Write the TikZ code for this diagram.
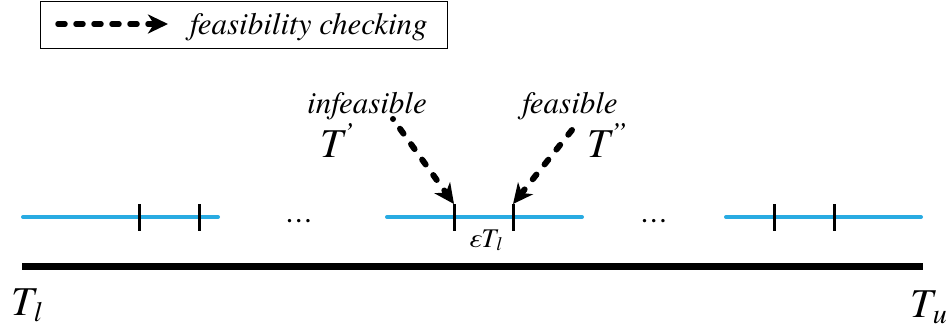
\documentclass[tikz,border=0pt]{standalone}
\usepackage{fontspec}
\setmainfont{TeX Gyre Termes}
\usetikzlibrary{arrows.meta}
\definecolor{segblue}{RGB}{41,171,226}
\tikzset{
  seg/.style={draw=segblue,line width=4pt,line cap=round},
  tick/.style={draw=black,line width=3pt},
  axis/.style={draw=black,line width=7pt},
  chk/.style={draw=black,line width=6pt,line cap=round,
    -{Stealth[length=20pt,width=19pt,inset=6pt,line cap=butt]}},
  legchk/.style={chk,line width=5.5pt,dash pattern=on 7pt off 11pt},
  diagchk/.style={chk,dash pattern=on 0pt off 12pt on 6pt off 13pt on 6pt off 13pt on 6pt off 13pt on 6pt off 13pt on 6pt off 13pt},
  lbl/.style={inner sep=0pt,font=\fontsize{31}{36}\selectfont\itshape},
  biglbl/.style={inner sep=0pt,font=\fontsize{41}{48}\selectfont\itshape},
}
\begin{document}
\begin{tikzpicture}[x=1pt,y=-1pt]
\useasboundingbox (0,0) rectangle (950,330);
% legend
\node[draw=black,line width=1pt,minimum width=407pt,minimum height=47pt,anchor=north west,inner sep=0pt] (legend) at (40,1) {};
\coordinate (la) at (58,24);
\coordinate (lb) at (168,24);
\draw[legchk] (la) -- (lb);
\node[lbl,anchor=base west] (legtxt) at (190,34) {feasibility checking};
% axis
\coordinate (ax1) at (22,266);
\coordinate (ax2) at (923,266);
\draw[axis] (ax1) -- (ax2);
\node[biglbl,anchor=base west] (Tl) at (11,315) {T\raisebox{-6pt}{\fontsize{28}{28}\selectfont\itshape l}};
\node[biglbl,anchor=base east] (Tu) at (947,317) {T\raisebox{-6pt}{\fontsize{28}{28}\selectfont\itshape u}};
% segments
\foreach \n/\a/\b in {s1/23/218, s2/387/582, s3/726/921}{
  \coordinate (\n a) at (\a,217);
  \coordinate (\n b) at (\b,217);
  \draw[seg] (\n a) -- (\n b);
}
% ticks
\foreach \n/\x in {k1/139, k2/199, k3/454, k4/513, k5/774, k6/834}{
  \coordinate (\n t) at (\x,204);
  \coordinate (\n b) at (\x,231);
  \draw[tick] (\n t) -- (\n b);
}
% dots
\node[lbl,anchor=base] (d1) at (300,222) {\dots};
\node[lbl,anchor=base] (d2) at (655,222) {\dots};
% epsilon T_l
\node[inner sep=0pt,font=\fontsize{27}{32}\selectfont\itshape,anchor=base] (eps) at (485,247) {ε{}T\raisebox{-3pt}{\fontsize{19}{19}\selectfont\itshape l}};
% labels
\node[lbl,anchor=base] (inf) at (367,113) {infeasible};
\node[lbl,anchor=base] (fea) at (570,113) {feasible};
\node[biglbl,anchor=base] (Tp) at (337,157) {T\raisebox{14pt}{\fontsize{30}{30}\selectfont\itshape '}};
\node[biglbl,anchor=base] (Tpp) at (607,157) {T\raisebox{14pt}{\fontsize{30}{30}\selectfont\itshape ''}};
% arrows
\coordinate (a1) at (393,119);
\coordinate (a2) at (572,130);
\draw[diagchk] (a1) -- (k3t);
\draw[chk,dash pattern=on 6pt off 13pt] (a2) -- (k4t);
\end{tikzpicture}
\end{document}
